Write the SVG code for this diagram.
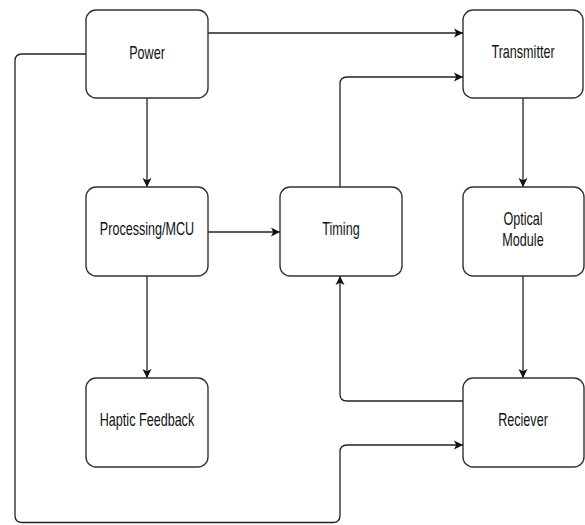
<svg xmlns="http://www.w3.org/2000/svg" width="585" height="525" viewBox="0 0 585 525">
<style>
.box{fill:#fff;stroke:#333;stroke-width:1.4}
.lbl{font-family:"Liberation Sans",Arial,sans-serif;font-size:18px;fill:#111;text-anchor:middle}
.edge{fill:none;stroke:#222;stroke-width:1.3}
</style>
<defs>
<marker id="arr" markerUnits="userSpaceOnUse" markerWidth="12" markerHeight="12" viewBox="0 0 12 12" refX="10" refY="6" orient="auto">
<path d="M1,1.5 L10,6 L1,10.5 L3.2,6 Z" fill="#111"/>
</marker>
</defs>
<rect width="585" height="525" fill="#fff"/>
<g id="connectors">
<path class="edge" d="M208,33 H463" marker-end="url(#arr)"/>
<path class="edge" d="M147,98 V187" marker-end="url(#arr)"/>
<path class="edge" d="M208,232 H280" marker-end="url(#arr)"/>
<path class="edge" d="M147,276 V378" marker-end="url(#arr)"/>
<path class="edge" d="M523,98 V187" marker-end="url(#arr)"/>
<path class="edge" d="M523,276 V378" marker-end="url(#arr)"/>
<path class="edge" d="M340,187 V84 Q340,77 347,77 H463" marker-end="url(#arr)"/>
<path class="edge" d="M463,401 H347 Q340,401 340,394 V276" marker-end="url(#arr)"/>
<path class="edge" d="M86,54 H22 Q15,54 15,61 V515.5 Q15,522.5 22,522.5 H333 Q340,522.5 340,515.5 V452 Q340,445 347,445 H463" marker-end="url(#arr)"/>
</g>
<g id="power">
<rect class="box" x="86" y="10" width="122" height="88" rx="10"/>
<text class="lbl" transform="translate(147,59) scale(0.7,1)">Power</text>
</g>
<g id="transmitter">
<rect class="box" x="463" y="10" width="120" height="88" rx="10"/>
<text class="lbl" transform="translate(523,58) scale(0.7,1)">Transmitter</text>
</g>
<g id="processing">
<rect class="box" x="86" y="187" width="122" height="89" rx="10"/>
<text class="lbl" transform="translate(147,235) scale(0.7,1)">Processing/MCU</text>
</g>
<g id="timing">
<rect class="box" x="280" y="187" width="122" height="89" rx="10"/>
<text class="lbl" transform="translate(341,235) scale(0.7,1)">Timing</text>
</g>
<g id="optical">
<rect class="box" x="463" y="187" width="121" height="89" rx="10"/>
<text class="lbl" transform="translate(523,225) scale(0.7,1)">Optical</text>
<text class="lbl" transform="translate(523,246) scale(0.7,1)">Module</text>
</g>
<g id="haptic">
<rect class="box" x="86" y="378" width="122" height="89" rx="10"/>
<text class="lbl" transform="translate(147,426) scale(0.7,1)">Haptic Feedback</text>
</g>
<g id="reciever">
<rect class="box" x="463" y="378" width="121" height="89" rx="10"/>
<text class="lbl" transform="translate(523,426) scale(0.7,1)">Reciever</text>
</g>
</svg>
